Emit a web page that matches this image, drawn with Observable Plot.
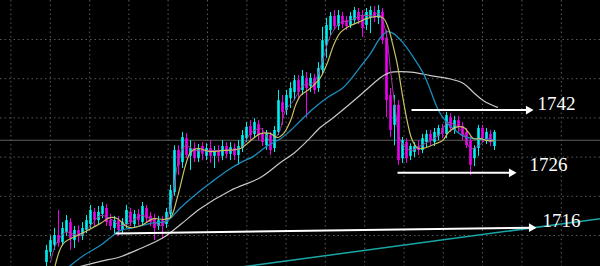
<!DOCTYPE html>
<html>
<head>
<meta charset="utf-8">
<script src="https://cdn.jsdelivr.net/npm/d3@7"></script>
<script src="https://cdn.jsdelivr.net/npm/@observablehq/plot@0.6"></script>
<style>
  html, body { margin: 0; padding: 0; background: #000; }
  #chart svg { display: block; }
</style>
</head>
<body>
<div id="chart"></div>
<script>
// ---- Candles (bar index 0..112), prices ----
const open = [1703.1,1705.7,1707.5,1710.0,1708.2,1710.8,1713.3,1708.7,1711.3,1709.8,
  1711.3,1712.8,1715.9,1713.8,1715.4,1716.9,1713.8,1711.8,1713.8,1711.3,
  1712.8,1715.9,1712.8,1715.4,1713.3,1716.9,1714.9,1714.3,1712.3,1713.8,
  1712.8,1715.4,1721.0,1731.7,1728.6,1734.7,1730.2,1732.2,1729.6,1732.7,
  1730.2,1732.2,1730.2,1731.7,1730.2,1732.7,1730.7,1732.2,1730.4,1732.2,
  1734.7,1737.8,1735.8,1738.3,1735.8,1732.9,1735.5,1732.2,1736.3,1743.9,
  1741.9,1744.9,1746.5,1749.5,1747.0,1750.1,1748.0,1750.1,1747.5,1752.1,
  1758.5,1762.3,1765.9,1763.3,1765.9,1764.8,1763.6,1764.8,1766.9,1765.9,
  1763.6,1765.4,1766.9,1765.4,1766.9,1760.3,1745.7,1738.1,1743.2,1729.6,
  1733.7,1730.2,1731.2,1732.7,1731.7,1733.7,1735.8,1733.7,1735.3,1737.3,
  1735.8,1740.1,1736.8,1739.3,1737.8,1736.3,1734.2,1729.6,1732.2,1737.3,
  1734.2,1735.8,1732.7];
const close = [1706.2,1708.7,1710.0,1708.0,1711.8,1713.8,1709.2,1711.3,1709.8,1711.8,
  1713.8,1716.4,1713.8,1715.9,1717.4,1713.3,1712.3,1713.8,1711.3,1713.3,
  1716.4,1713.3,1715.4,1713.8,1717.4,1714.3,1713.3,1711.8,1713.8,1712.3,
  1715.9,1721.5,1731.7,1727.9,1735.0,1730.4,1732.2,1729.6,1732.2,1730.7,
  1732.2,1730.2,1731.7,1730.2,1732.7,1730.7,1732.4,1730.4,1732.7,1735.5,
  1737.6,1735.5,1738.8,1735.5,1733.7,1736.0,1731.7,1736.8,1744.4,1741.4,
  1745.7,1747.5,1749.5,1746.5,1750.6,1747.5,1750.1,1747.0,1752.6,1759.7,
  1763.6,1765.9,1763.3,1766.1,1763.8,1763.3,1765.9,1767.4,1764.8,1762.8,
  1766.9,1767.4,1765.4,1767.4,1759.7,1744.4,1736.8,1743.2,1729.1,1734.2,
  1729.6,1732.7,1732.7,1731.7,1734.7,1735.8,1734.2,1736.3,1737.3,1735.8,
  1740.6,1737.3,1739.3,1737.8,1735.5,1732.9,1727.9,1732.2,1737.3,1734.7,
  1736.3,1733.7,1736.3];
const high = [1707.5,1709.8,1711.8,1716.4,1713.3,1715.1,1714.3,1712.3,1712.5,1713.3,
  1715.1,1717.7,1716.9,1717.4,1718.4,1717.9,1715.4,1714.9,1714.9,1714.3,
  1717.7,1716.9,1716.4,1716.6,1718.4,1717.7,1715.9,1715.4,1714.9,1714.9,
  1716.9,1722.8,1732.9,1732.9,1736.3,1736.0,1734.2,1733.7,1733.2,1733.7,
  1733.4,1734.2,1732.7,1732.9,1734.2,1733.7,1733.7,1733.4,1734.2,1736.8,
  1738.8,1739.3,1739.8,1739.3,1737.3,1736.8,1736.3,1737.8,1747.0,1745.7,
  1747.0,1749.0,1750.8,1750.8,1752.1,1751.6,1751.3,1751.1,1754.1,1763.1,
  1765.4,1766.9,1767.4,1767.4,1766.9,1765.9,1766.9,1768.2,1767.9,1767.4,
  1767.9,1768.4,1768.4,1768.7,1767.9,1762.3,1747.5,1745.7,1744.4,1735.0,
  1734.7,1733.4,1733.7,1734.2,1735.8,1736.8,1736.8,1737.3,1738.1,1738.3,
  1741.4,1741.1,1740.4,1740.4,1738.8,1737.3,1735.3,1732.9,1738.1,1738.1,
  1737.3,1736.8,1736.8];
const low = [1701.6,1704.6,1706.2,1707.0,1707.2,1709.8,1706.2,1706.7,1708.2,1708.7,
  1710.5,1711.8,1712.3,1712.8,1714.3,1712.3,1711.3,1710.3,1709.8,1710.3,
  1711.8,1712.3,1711.8,1712.5,1712.5,1713.3,1712.3,1708.7,1711.3,1709.2,
  1711.8,1714.3,1720.0,1725.3,1727.1,1729.6,1726.6,1728.6,1728.6,1729.1,
  1729.1,1728.4,1727.1,1728.6,1729.1,1729.6,1729.1,1729.1,1727.9,1731.2,
  1733.7,1734.2,1734.7,1734.2,1732.7,1731.7,1730.4,1731.2,1735.5,1738.1,
  1740.6,1742.4,1744.4,1744.9,1745.7,1740.1,1746.5,1746.0,1746.5,1751.1,
  1755.2,1761.0,1762.3,1762.3,1762.8,1762.3,1762.8,1763.8,1763.8,1760.5,
  1762.3,1761.5,1764.3,1763.8,1758.7,1740.1,1735.0,1732.9,1727.9,1728.4,
  1728.4,1729.1,1729.9,1730.4,1730.9,1732.2,1732.9,1732.7,1734.2,1734.7,
  1734.7,1736.3,1735.8,1736.3,1734.2,1732.2,1725.3,1727.6,1730.2,1733.7,
  1733.2,1732.7,1731.7];

// ---- Moving averages (bar position, price) ----
const pinkX = [1,2.25,4.75,8.5,11,13.5,16,18.5,21,23.5,26,28.5,30.5,31.75,33,34.75,37.25,41,44.75,48.5,51,53.5,56,58,59.75,61.75,64.25,66.75,69,71,73.5,76,78.5,81,83,84.75,86,87.25,88.5,91,93.5,96,98.5,100.25,102.25,104.25,106,108,110.25,112];
const pinkY = [1703.1,1707.5,1710.8,1710.0,1712.5,1715.1,1714.3,1712.5,1713.3,1715.1,1714.3,1712.5,1715.1,1721.5,1729.1,1732.9,1731.7,1731.7,1731.7,1732.2,1736.0,1737.3,1734.2,1736.0,1741.9,1744.4,1748.3,1749.0,1754.6,1761.0,1764.3,1764.8,1766.1,1766.1,1766.6,1762.3,1752.1,1741.9,1734.2,1731.7,1732.9,1734.2,1736.0,1738.8,1738.1,1736.0,1732.2,1732.9,1734.7,1734.2];

const yellowX = [2,4.25,7.75,10.25,13.5,16,17.75,19.75,21,23.5,26.75,29.25,31,32.5,33.5,34.75,36,37.75,41,44.25,48.5,51,53.5,56,57.75,59.25,61,62.25,63.5,65.25,66.75,68.5,70.25,71.75,73.5,75.5,77.75,80.25,82.75,84.25,85.5,86.5,87.75,89,90.25,91.5,93,94.75,97.25,99,100.5,102.25,104.25,105.5,106.75,108.5,110.25,111.75];
const yellowY = [1701.6,1708.0,1710.0,1711.3,1713.1,1714.6,1714.3,1712.5,1712.0,1712.5,1714.3,1714.1,1714.6,1718.9,1722.8,1727.9,1731.2,1732.2,1731.4,1731.7,1732.2,1734.2,1736.0,1736.0,1735.0,1736.0,1739.3,1743.2,1745.7,1747.0,1748.3,1750.3,1754.1,1758.5,1761.8,1763.3,1764.3,1765.4,1765.9,1765.4,1762.8,1759.0,1753.4,1745.7,1738.8,1734.2,1732.2,1732.4,1733.4,1734.2,1736.3,1737.6,1737.6,1736.3,1734.7,1734.7,1734.2,1734.2];

const blueX = [4.5,9.25,13.5,16,18.5,21.75,26,30.25,33.5,38.5,41.75,45.25,48.5,51.75,55.25,58.5,61,63.5,66.75,70.25,74.25,78.5,81,83.5,85.25,86.75,89.25,91.75,94.25,96,98,100.25,102.25,104,106.75,109.25,111.75];
const blueY = [1701.1,1704.9,1707.5,1709.5,1711.3,1712.0,1713.1,1713.8,1717.1,1721.5,1724.0,1726.6,1728.6,1730.2,1732.9,1734.7,1736.8,1739.3,1742.4,1745.2,1747.8,1753.1,1756.4,1760.5,1762.0,1761.5,1759.0,1755.4,1751.3,1747.0,1741.9,1738.6,1736.8,1735.5,1734.7,1734.5,1734.2];

const whiteX = [6.5,13.5,18.5,23.5,29.25,33.5,38.5,46,53.5,58.5,61.75,65.25,68.5,71.75,77.75,81.75,84.25,86,88.5,91.75,96,100.25,104.25,106.75,109.25,112.75];
const whiteY = [1701.6,1703.4,1704.6,1706.7,1709.5,1712.8,1716.9,1721.5,1724.8,1728.6,1730.9,1734.2,1737.6,1740.1,1745.2,1748.8,1750.8,1751.6,1751.8,1751.6,1750.8,1750.1,1748.8,1746.5,1744.4,1742.7];

// ---- Annotations ----
const arrowX1 = [91.25, 87.75, 17.25];
const arrowX2 = [121, 116.75, 121.75];
const arrowY1 = [1742, 1726, 1710.5];
const arrowY2 = [1742, 1726, 1712.0];
const labelText = ["1742", "1726", "1716"];
const labelX = [122.75, 120.75, 124];
const labelY = [1743.7, 1728.0, 1713.8];
const trendX = [46, 138.5];
const trendY = [1701.6, 1714.3];
const priceLine = 1734.3;
const gridYTicks = [1710, 1720, 1730, 1740, 1750, 1760];
const gridXTicks = [-8.9, 0.95, 10.8, 20.6, 30.4, 40.25, 50.1, 59.9, 69.7, 79.55, 89.4, 99.2, 109.0, 118.85, 128.7];

const candles = open.map((o, i) => ({i, o, c: close[i], h: high[i], l: low[i], up: close[i] >= o}));
const toPts = (xs, ys) => xs.map((x, k) => ({x, y: ys[k]}));
const arrows = arrowX1.map((x1, k) => ({x1, x2: arrowX2[k], y1: arrowY1[k], y2: arrowY2[k]}));
const labels = labelText.map((t, k) => ({t, x: labelX[k], y: labelY[k]}));

const UP = "#00f0f0", DOWN = "#f000f0";

const chart = Plot.plot({
  width: 600, height: 266, margin: 0,
  x: {domain: [-11.5, 138.5], axis: null},
  y: {domain: [1702.1, 1769.95], axis: null},
  style: {background: "#000"},
  marks: [
    Plot.ruleY(gridYTicks, {stroke: "#5a5a5a", strokeDasharray: "1.5,3", strokeWidth: 1}),
    Plot.ruleX(gridXTicks, {stroke: "#5a5a5a", strokeDasharray: "1.5,3", strokeWidth: 1}),
    Plot.ruleY([priceLine], {stroke: "#5e5e5e", strokeWidth: 1}),
    Plot.line(toPts(trendX, trendY), {x: "x", y: "y", stroke: "#1aa6a6", strokeWidth: 1.5}),
    Plot.ruleX(candles, {x: "i", y1: "l", y2: "h", stroke: d => d.up ? UP : DOWN, strokeWidth: 1}),
    Plot.ruleX(candles, {x: "i", y1: "o", y2: "c", stroke: d => d.up ? UP : DOWN, strokeWidth: 2.6}),
    Plot.line(toPts(whiteX, whiteY), {x: "x", y: "y", stroke: "#c8c8c8", strokeWidth: 1.2, curve: "catmull-rom"}),
    Plot.line(toPts(blueX, blueY), {x: "x", y: "y", stroke: "#1b8dbf", strokeWidth: 1.3, curve: "catmull-rom"}),
    Plot.line(toPts(pinkX, pinkY), {x: "x", y: "y", stroke: "#a040a0", strokeWidth: 1, curve: "catmull-rom"}),
    Plot.line(toPts(yellowX, yellowY), {x: "x", y: "y", stroke: "#c8c264", strokeWidth: 1.2, curve: "catmull-rom"}),
    Plot.link(arrows, {x1: "x1", y1: "y1", x2: "x2", y2: "y2", stroke: "#ffffff", strokeWidth: 2}),
    Plot.dot(arrows, {x: "x2", y: "y2", symbol: "triangle2", r: 4.2, fill: "#ffffff", rotate: 90, dx: -2}),
    Plot.text(labels, {x: "x", y: "y", text: "t", fill: "#ffffff", textAnchor: "start",
      fontFamily: "Liberation Serif", fontSize: 19})
  ]
});
document.getElementById("chart").appendChild(chart);
</script>
</body>
</html>
